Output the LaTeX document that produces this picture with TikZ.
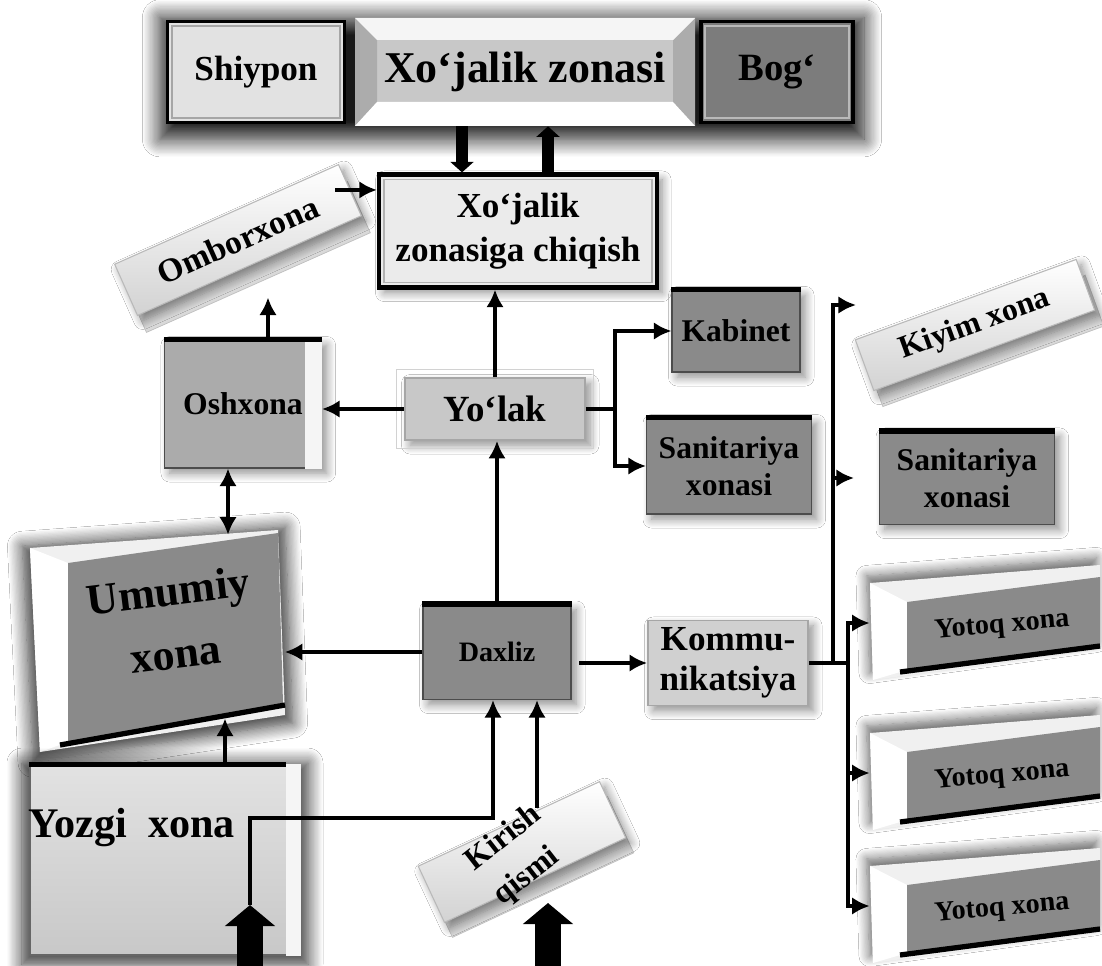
\documentclass[tikz,border=0pt]{standalone}
\usepackage{fontspec}
\setmainfont{Liberation Serif}
\usetikzlibrary{arrows.meta,shadows.blur}
\definecolor{lg}{HTML}{E2E2E2}
\definecolor{mg}{HTML}{C8C8C8}
\definecolor{og}{HTML}{ABABAB}
\definecolor{dg}{HTML}{8A8A8A}
\definecolor{bg}{HTML}{7C7C7C}
\definecolor{kg}{HTML}{D0D0D0}
\tikzset{
  sz/.style 2 args={minimum width=#1*0.02cm,minimum height=#2*0.02cm,inner sep=0pt},
  f15/.style={font=\bfseries\fontsize{15}{17}\selectfont},
  f16/.style={font=\bfseries\fontsize{16}{19}\selectfont},
  f17/.style={font=\bfseries\fontsize{17}{20}\selectfont},
  f18/.style={font=\bfseries\fontsize{18}{21}\selectfont},
  f19/.style={font=\bfseries\fontsize{19}{22}\selectfont},
  f20/.style={font=\bfseries\fontsize{20}{23}\selectfont},
  f21/.style={font=\bfseries\fontsize{21}{24}\selectfont},
  f22/.style={font=\bfseries\fontsize{22}{25}\selectfont},
  f24/.style={font=\bfseries\fontsize{24}{27}\selectfont},
  f25/.style={font=\bfseries\fontsize{25}{28}\selectfont},
  sh/.style={blur shadow={shadow xshift=3pt,shadow yshift=-3pt,shadow blur steps=10,shadow blur radius=5pt,shadow opacity=45}},
  dsh/.style={blur shadow={shadow xshift=0pt,shadow yshift=-2pt,shadow scale=1.06,shadow blur steps=12,shadow blur radius=8pt,shadow opacity=80}},
  ysh/.style={blur shadow={shadow xshift=-2pt,shadow yshift=4pt,shadow blur steps=10,shadow blur radius=6pt,shadow opacity=60}},
  tip/.style={-{Latex[length=10pt,width=10pt,fill=black]}},
  conn/.style={line width=2.6pt,tip},
  dconn/.style={line width=2.6pt,{Latex[length=10pt,width=10pt,fill=black]}-{Latex[length=10pt,width=10pt,fill=black]}},
  wire/.style={line width=2.8pt},
  tarr/.style={line width=7pt,-{Triangle[length=6pt,width=13pt,fill=black]}},
  blk/.style={line width=15pt,-{Triangle[length=12pt,width=28pt,fill=black]}},
  room/.style={draw=black!70,line width=0.6pt,sh},
  slab/.style={top color=white,bottom color=gray!35,draw=gray!55,line width=0.6pt,sh},
  slabside/.style={fill=gray!30,draw=gray!50,line width=0.4pt}
}
\newcommand\yotoqbox[2]{%
  \path[fill=gray!12,ysh] (870,#2) -- (1100,#2-18) -- (1100,#2+66) -- (873,#2+97) -- cycle;
  \fill[white] (870,#2) -- (907,#2+19) -- (907,#2+87) -- (873,#2+97) -- cycle;
  \fill[dg] (907,#2+19) -- (1100,#2-6) -- (1100,#2+64) -- (907,#2+87) -- cycle;
  \draw[line width=3pt] (900,#2+89) -- (1100,#2+63);
  \node[sz={230}{100}] (#1) at (985,#2+40) {};
  \node[f16,rotate=5] (#1t) at (1002,#2+43) {Yotoq xona};
}
\begin{document}
\begin{tikzpicture}[x=0.02cm,y=-0.02cm]
\fill[white] (0,0) rectangle (1102,966);
\useasboundingbox (0,0) rectangle (1102,966);

% ---------- top bar ----------
\path[blur shadow={shadow xshift=0pt,shadow yshift=-3pt,shadow blur steps=14,shadow blur radius=10pt,shadow opacity=90}] (160,12) rectangle (864,134);
\node[sz={177}{101},fill=lg,draw=black,line width=2pt,f20] (shiy) at (256,72) {Shiypon};
\draw[gray!70,line width=1pt] ([shift={(6,6)}]shiy.north west) rectangle ([shift={(-6,-6)}]shiy.south east);
\node[sz={340}{108},fill=mg,f25] (xoz) at (525,72) {Xo‘jalik zonasi};
\fill[gray!65] (355,18) -- (377,40) -- (377,102) -- (355,126) -- cycle;
\fill[gray!65] (695,18) -- (673,40) -- (673,102) -- (695,126) -- cycle;
\fill[white!92!gray] (355,18) -- (695,18) -- (673,40) -- (377,40) -- cycle;
\fill[white] (377,102) -- (673,102) -- (695,126) -- (355,126) -- cycle;
\node[sz={152}{101},fill=bg,draw=black,line width=2pt,f22] (bog) at (777,72) {Bog‘};
\draw[gray!55,line width=1pt] ([shift={(6,6)}]bog.north west) rectangle ([shift={(-6,-6)}]bog.south east);

% ---------- exit to household zone ----------
\node[sz={278}{113},fill=lg!70!white,draw=black,line width=2.4pt,sh,f20,align=center] (xch) at (518,231) {Xo‘jalik\\[2pt]zonasiga chiqish};
\draw[gray!60,line width=0.8pt] ([shift={(7,7)}]xch.north west) rectangle ([shift={(-7,-7)}]xch.south east);

% ---------- Omborxona slab ----------
\node[rotate=24,sz={245}{56},slabside] (ombs) at (247,257) {};
\node[rotate=24,sz={245}{56},slab,f19] (omb) at (238,240) {Omborxona};

% ---------- Oshxona ----------
\node[sz={157}{128},fill=og,room,f18] (osh) at (243,404) {Oshxona};
\fill[white!92!gray] ([xshift=-0.34cm]osh.north east) rectangle (osh.south east);
\draw[line width=3pt] (osh.north west) -- (osh.north east);

% ---------- Yo'lak ----------
\node[sz={180}{62},fill=mg,draw=gray!70,line width=1pt,sh,f21] (yol) at (495,409) {Yo‘lak};
\draw[gray!35,line width=0.6pt] ([shift={(-8,-8)}]yol.north west) rectangle ([shift={(8,8)}]yol.south east);

% ---------- right-hand rooms ----------
\node[sz={128}{82},fill=dg,room,f18] (kab) at (736,331) {Kabinet};
\draw[line width=2.5pt] (kab.north west) -- (kab.north east);
\node[sz={165}{96},fill=dg,room,f18,align=center] (san1) at (729,466) {Sanitariya\\xonasi};
\draw[line width=3pt] (san1.north west) -- (san1.north east);
\node[rotate=20,sz={235}{54},slabside] (kiys) at (984,341) {};
\node[rotate=20,sz={235}{54},slab,f18] (kiy) at (975,325) {Kiyim xona};
\node[sz={175}{93},fill=dg,room,f18,align=center] (san2) at (967,478) {Sanitariya\\xonasi};
\draw[line width=3pt] (san2.north west) -- (san2.north east);

% ---------- Kommunikatsiya ----------
\node[sz={160}{85},fill=kg,draw=gray!70,line width=1pt,sh,f20,align=center] (kom) at (728,663) {Kommu-\\nikatsiya};

% ---------- bedrooms ----------
\yotoqbox{yot1}{583}
\yotoqbox{yot2}{733}
\yotoqbox{yot3}{866}

% ---------- Umumiy xona ----------
\path[fill=gray!12,dsh] (30,548) -- (278,530) -- (285,715) -- (40,752) -- cycle;
\fill[white] (30,548) -- (68,563) -- (68,742) -- (40,752) -- cycle;
\fill[dg] (68,563) -- (278,533) -- (283,703) -- (68,742) -- cycle;
\draw[line width=3pt] (60,745) -- (285,705);
\node[sz={255}{210}] (umu) at (157,640) {};
\node[f25,rotate=7,align=center] (umut) at (172,622) {Umumiy\\[8pt]xona};

% ---------- Daxliz ----------
\node[sz={148}{95},fill=dg,room,f16] (dax) at (497,652) {Daxliz};
\draw[line width=3pt] (dax.north west) -- (dax.north east);

% ---------- Yozgi xona ----------
\node[sz={270}{190},top color=lg,bottom color=mg,draw=black!60,line width=0.6pt,dsh] (yoz) at (165,860) {};
\fill[white!92!gray] ([xshift=-0.3cm]yoz.north east) rectangle (yoz.south east);
\draw[line width=3pt] (yoz.north west) -- ([xshift=-0.3cm]yoz.north east);
\node[f24] (yozt) at (132,828) {Yozgi~~xona};

% ---------- Kirish qismi ----------
\node[rotate=25,sz={200}{62},slabside] (kirs) at (530,867) {};
\node[rotate=25,sz={200}{62},slab] (kir) at (522,852) {};
\node[rotate=38,f18] (kirt1) at (502,836) {Kirish};
\node[rotate=38,f18] (kirt2) at (527,877) {qismi};

% ---------- helper coordinates ----------
\coordinate (ca) at (462,0);
\coordinate (cb) at (548,0);
\coordinate (c268) at (268,0);
\coordinate (c228) at (228,0);
\coordinate (c225) at (225,0);
\coordinate (yb) at (615,409);
\coordinate (tr) at (833,663);
\coordinate (br) at (848,663);
\coordinate (kiyA) at (856,305);
\coordinate (in1) at (250,905);
\coordinate (turn) at (493,818);
\coordinate (b1) at (250,966);
\coordinate (kirN) at (537,808);
\coordinate (b2) at (548,966);
\coordinate (in2) at (548,903);

% ---------- connectors ----------
\draw[tarr] (xoz.south -| ca) -- (xch.north -| ca);
\draw[tarr] (xch.north -| cb) -- (xoz.south -| cb);
\draw[conn,shorten <=-0.3cm] (omb.east) -- (omb.east -| xch.west);
\draw[conn] (osh.north -| c268) -- ++(0,-42);
\draw[conn] (yol.west) -- (yol.west -| osh.east);
\draw[conn] (yol.north) -- (yol.north |- xch.south);
\draw[wire] (yol.east) -- (yb);
\draw[conn] (yb) |- (kab.west);
\draw[conn] (yb) |- (san1.west);
\draw[wire] (kom.east) -- (br);
\draw[conn] (tr) |- (kiyA);
\draw[conn,shorten >=0.5cm] (tr) |- (san2.west);
\draw[conn] (br) |- (yot1.west);
\draw[conn] (br) |- (yot2.west);
\draw[conn] (br) |- (yot3.west);
\draw[dconn] (osh.south -| c228) -- (c228 |- umu.north);
\draw[conn] (dax.west) -- (dax.west -| umu.east);
\draw[conn,shorten <=0.15cm] (dax.east |- kom.west) -- (kom.west);
\draw[conn] (dax.north) -- (dax.north |- yol.south);
\draw[conn] (yoz.north -| c225) -- ++(0,-46);
\draw[conn] (in1) |- (turn) -- (turn |- dax.south);
\draw[conn] (kirN) -- (kirN |- dax.south);
\draw[blk] (b1) -- (in1);
\draw[blk] (b2) -- (in2);
\end{tikzpicture}
\end{document}
